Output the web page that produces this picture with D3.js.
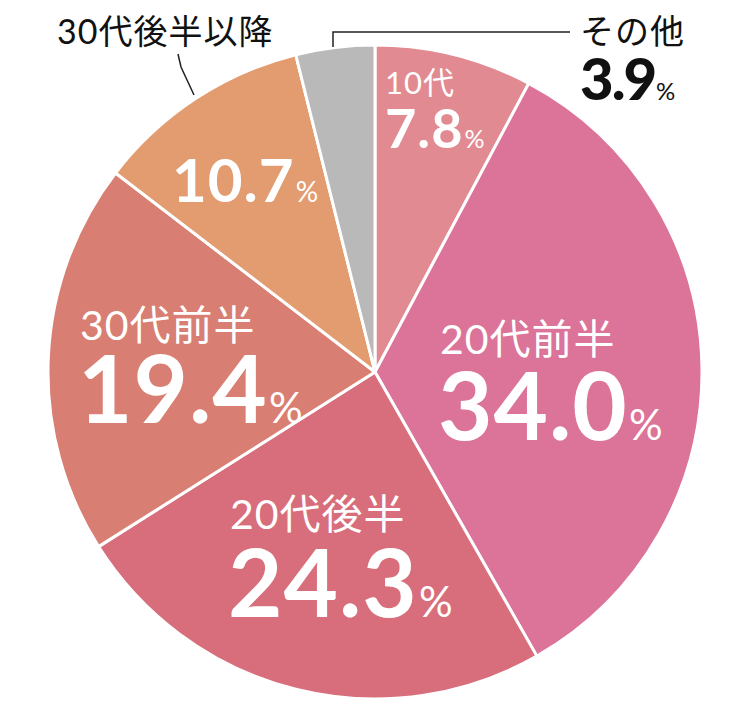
<!DOCTYPE html>
<html>
<head>
<meta charset="utf-8">
<script src="https://cdn.jsdelivr.net/npm/d3@7"></script>
<style>
  body { margin: 0; background: #fff; }
  svg { display: block; }
</style>
</head>
<body>
<div id="chart"></div>
<script>
// data
var categories = ["10代", "20代前半", "20代後半", "30代前半", "30代後半以降", "その他"];
var values = [7.8, 34.0, 24.3, 19.4, 10.7, 3.9];
var valueLabels = ["7.8", "34.0", "24.3", "19.4", "10.7", "3.9"];
var colors = ["#e28a92", "#dc7398", "#d86e7b", "#d97e72", "#e39b70", "#b9b9b9"];

var width = 750, height = 706;
var cx = 375, cy = 372, radius = 327;

var svg = d3.select("#chart").append("svg")
    .attr("width", width)
    .attr("height", height);

var g = svg.append("g").attr("transform", `translate(${cx}, ${cy})`);

var pie = d3.pie().sort(null).value(d => d);
var arc = d3.arc().innerRadius(0).outerRadius(radius);
var arcs = pie(values);

g.selectAll("path")
    .data(arcs)
    .enter()
    .append("path")
    .attr("d", arc)
    .attr("fill", (d, i) => colors[i])
    .attr("stroke", "#fff")
    .attr("stroke-width", 3)
    .attr("stroke-linejoin", "round");

// label layout (relative to pie centre): name pos, value pos, sizes
var layout = [
    { nx: 10, ny: -278, ns: 31, vx: 10, vy: -224, vs: 54, pct: 25, color: "#fff" },
    { nx: 65, ny: -18, ns: 41, vx: 63, vy: 68, vs: 94, pct: 42, color: "#fff" },
    { nx: -145, ny: 157, ns: 41, vx: -147, vy: 245, vs: 94, pct: 42, color: "#fff" },
    { nx: -295, ny: -32, ns: 41, vx: -297, vy: 51, vs: 94, pct: 42, color: "#fff" },
    { nx: -318, ny: -328, ns: 34, vx: -203, vy: -170, vs: 60, pct: 28, color: "#fff", nameColor: "#111" },
    { nx: 205, ny: -328, ns: 34, vx: 205, vy: -272, vs: 58, pct: 24, color: "#111", nameColor: "#111", heavy: true }
];

var fontStack = "Lato, 'Noto Sans CJK JP', sans-serif";

layout.forEach(function(l, i) {
    g.append("text")
        .attr("x", l.nx)
        .attr("y", l.ny)
        .attr("font-family", fontStack)
        .attr("font-size", l.ns + "px")
        .attr("font-weight", 400)
        .attr("letter-spacing", "1px")
        .attr("fill", l.nameColor || l.color)
        .text(categories[i]);

    var t = g.append("text")
        .attr("x", l.vx)
        .attr("y", l.vy)
        .attr("font-family", fontStack)
        .attr("font-weight", l.heavy ? 900 : 700)
        .attr("letter-spacing", l.heavy ? "-2px" : "1px")
        .attr("fill", l.color);
    t.append("tspan")
        .attr("font-size", l.vs + "px")
        .text(valueLabels[i]);
    t.append("tspan")
        .attr("font-size", l.pct + "px")
        .attr("font-weight", 400)
        .attr("dx", 1)
        .text("%");
});

// leader lines
var line = d3.line();
g.append("path")
    .attr("d", line([[-42, -325], [-42, -340], [195, -340]]))
    .attr("fill", "none")
    .attr("stroke", "#222")
    .attr("stroke-width", 1.5);

g.append("path")
    .attr("d", line([[-197, -318], [-194, -305], [-181, -277]]))
    .attr("fill", "none")
    .attr("stroke", "#222")
    .attr("stroke-width", 1.5);
</script>
</body>
</html>
